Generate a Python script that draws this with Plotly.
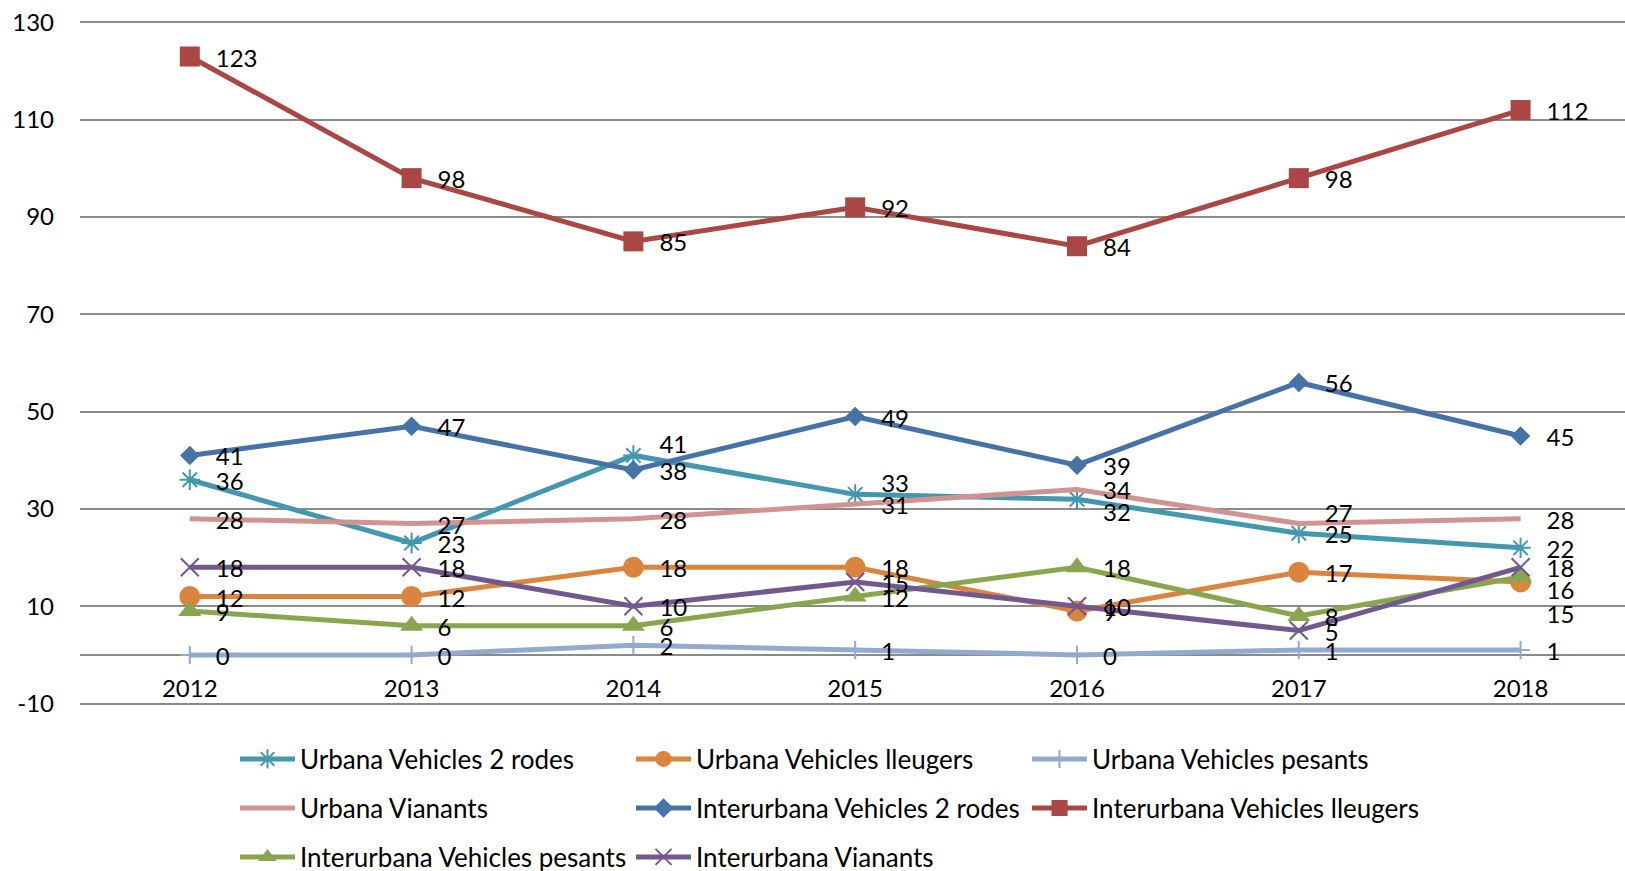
import plotly.graph_objects as go

# ---------------- data ----------------
years = ["2012", "2013", "2014", "2015", "2016", "2017", "2018"]

series_names = [
    "Urbana Vehicles 2 rodes",
    "Urbana Vehicles lleugers",
    "Urbana Vehicles pesants",
    "Urbana Vianants",
    "Interurbana Vehicles 2 rodes",
    "Interurbana Vehicles lleugers",
    "Interurbana Vehicles pesants",
    "Interurbana Vianants",
]

urb_2rodes = [36, 23, 41, 33, 32, 25, 22]
urb_lleugers = [12, 12, 18, 18, 9, 17, 15]
urb_pesants = [0, 0, 2, 1, 0, 1, 1]
urb_vianants = [28, 27, 28, 31, 34, 27, 28]
int_2rodes = [41, 47, 38, 49, 39, 56, 45]
int_lleugers = [123, 98, 85, 92, 84, 98, 112]
int_pesants = [9, 6, 6, 12, 18, 8, 16]
int_vianants = [18, 18, 10, 15, 10, 5, 18]

y_ticks = [-10, 10, 30, 50, 70, 90, 110, 130]
y_tick_labels = [str(v) for v in y_ticks]

values = [urb_2rodes, urb_lleugers, urb_pesants, urb_vianants,
          int_2rodes, int_lleugers, int_pesants, int_vianants]

# ---------------- styles ----------------
colors = ["#4198AF", "#DB843D", "#93A9CF", "#D19392",
          "#4572A7", "#AA4643", "#89A54E", "#71588F"]
symbols = ["asterisk-open", "circle", "cross-thin-open", "circle",
           "diamond", "square", "triangle-up", "x-thin-open"]
sizes = [17, 21, 13, 0, 15, 20, 20, 18]
legend_ids = ["legend", "legend", "legend", "legend2",
              "legend2", "legend2", "legend3", "legend3"]

# label placement tweaks (as in the original chart)
label_pos = {
    "Urbana Vehicles 2 rodes": {2: "top right", 3: "top right", 4: "bottom right"},
    "Urbana Vianants": {5: "top right"},
    "Interurbana Vehicles pesants": {6: "bottom right"},
}

FONT = "Lato, 'Open Sans', sans-serif"
FS = 24
LEG_FS = 26

W, H = 1625, 871
ML, MR, MT, MB = 80, 0, 21, 166
plot_w = W - ML - MR
plot_h = H - MT - MB
cat_px = 221.8
x0 = -0.495
x_range = [x0, x0 + plot_w / cat_px]
label_shift = 26 / cat_px
y_range = [-10.3, 130.3]
y_px = plot_h / (y_range[1] - y_range[0])
label_drop = 4 / y_px

fig = go.Figure()

for i, (name, vals) in enumerate(zip(series_names, values)):
    has_marker = sizes[i] > 0
    marker = dict(symbol=symbols[i], size=sizes[i] if has_marker else 1,
                  color=colors[i])
    if symbols[i].endswith("-open"):
        marker["line"] = dict(color=colors[i], width=2)
    else:
        marker["line"] = dict(width=0)
    fig.add_trace(go.Scatter(
        x=years, y=vals, name=name,
        mode="lines+markers" if has_marker else "lines",
        line=dict(color=colors[i], width=5),
        marker=marker,
        legend=legend_ids[i],
    ))

# data labels (to the right of each point)
for i, vals in enumerate(values):
    texts = [str(v) for v in vals]
    positions = ["middle right"] * len(vals)
    for k, p in label_pos.get(series_names[i], {}).items():
        positions[k] = p
    if series_names[i] == "Urbana Vehicles lleugers":
        texts[-1] = "<br><br>" + texts[-1]
    fig.add_trace(go.Scatter(
        x=years, y=vals, mode="text", text=texts,
        textposition=positions,
        textfont=dict(family=FONT, size=FS, color="black"),
        xaxis="x2", yaxis="y2", showlegend=False, hoverinfo="skip",
    ))

legend_common = dict(
    orientation="h", xanchor="left", yanchor="middle",
    x=(235 - ML) / plot_w,
    font=dict(family=FONT, size=LEG_FS, color="black"),
    bgcolor="rgba(0,0,0,0)", itemwidth=55,
    entrywidth=326, entrywidthmode="pixels",
    itemclick=False, traceorder="normal",
)

fig.update_layout(
    width=W, height=H,
    margin=dict(l=ML, r=MR, t=MT, b=MB, autoexpand=False),
    paper_bgcolor="white", plot_bgcolor="white",
    font=dict(family=FONT, size=FS, color="black"),
    xaxis=dict(
        type="category", categoryarray=years, range=x_range,
        showgrid=False, showline=False, zeroline=False, ticks="",
        anchor="free", position=10.3 / 140.6, ticklabelstandoff=17,
        automargin=False,
        tickfont=dict(family=FONT, size=FS, color="black"),
    ),
    xaxis2=dict(
        type="category", categoryarray=years,
        range=[x_range[0] - label_shift, x_range[1] - label_shift],
        overlaying="x", visible=False, anchor="y2",
    ),
    yaxis=dict(
        range=y_range, tickvals=y_ticks, ticktext=y_tick_labels,
        showgrid=True, gridcolor="#8a8a8a", gridwidth=1.5,
        zeroline=True, zerolinecolor="#8a8a8a", zerolinewidth=1.5,
        showline=False, ticks="", ticklabelstandoff=25,
        automargin=False,
        tickfont=dict(family=FONT, size=FS, color="black"),
    ),
    yaxis2=dict(
        range=[y_range[0] + label_drop, y_range[1] + label_drop],
        overlaying="y", visible=False, anchor="x2",
    ),
    legend=dict(legend_common, y=((H - MB) - 759) / plot_h),
    legend2=dict(legend_common, y=((H - MB) - 808) / plot_h),
    legend3=dict(legend_common, y=((H - MB) - 857) / plot_h),
    showlegend=True,
)

fig.write_html(
    "out.html",
    config={"displayModeBar": False},
    post_script="document.body.style.margin='0';document.body.style.overflow='hidden';",
)
